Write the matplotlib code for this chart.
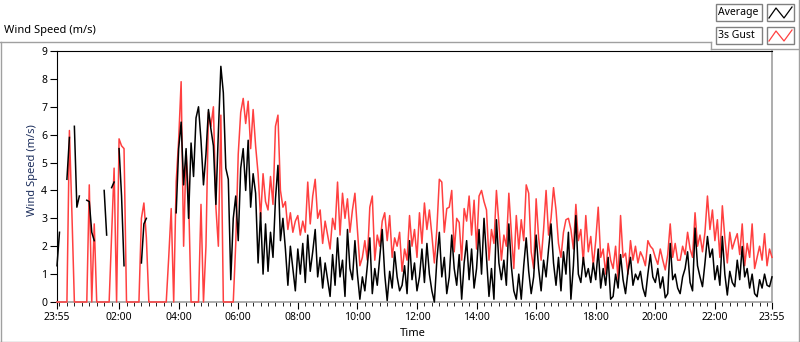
import numpy as np
import matplotlib.pyplot as plt
from matplotlib.lines import Line2D
from matplotlib.patches import Rectangle

plt.rcParams['font.family'] = ['Noto Sans', 'DejaVu Sans']

N = np.nan
step_min = 5  # one reading every 5 minutes, starting 23:55

# 10-minute average wind speed (m/s), gaps where no reading
avg_speed = [
    1.3, 2.5, N, N, 4.4, 5.9, N, 6.3, 3.4, 3.8,
    N, N, 3.65, 3.6, 2.5, 2.2, N, N, N, 4.0,
    2.4, N, 4.1, 4.3, N, 5.5, 3.8, 1.3, N, N,
    N, N, N, N, 1.4, 2.8, 3.0, N, N, N,
    N, N, N, N, N, N, N, N, 3.2, 5.5,
    6.45, 4.2, 5.5, 3.0, 5.7, 4.5, 6.6, 7.0, 5.8, 4.2,
    5.3, 6.9, 6.2, 5.6, 3.5, 6.1, 8.45, 7.5, 4.8, 4.4,
    0.8, 3.0, 3.8, 2.2, 4.8, 5.5, 4.0, 5.8, 3.4, 4.6,
    3.9, 1.4, 3.2, 1.0, 2.8, 1.1, 2.5, 1.6, 3.7, 4.9,
    2.2, 3.0, 1.9, 0.6, 2.0, 1.2, 0.4, 1.9, 1.0, 2.1,
    0.7, 2.4, 1.1, 1.8, 2.6, 0.9, 1.6, 0.5, 1.4, 0.8,
    0.2, 1.7, 0.6, 2.3, 0.9, 1.5, 0.2, 2.6, 1.2, 0.8,
    2.2, 1.0, 0.1, 0.9, 0.4, 1.3, 2.3, 0.3, 1.2, 0.6,
    1.6, 2.6, 1.0, 0.05, 1.1, 0.5, 1.8, 0.9, 0.4, 0.6,
    1.3, 0.3, 2.2, 0.8, 1.4, 0.4, 0.9, 1.9, 0.7, 2.1,
    1.0, 0.4, 0.0, 1.5, 2.5, 0.9, 1.6, 0.3, 0.9, 2.4,
    1.2, 0.6, 1.7, 0.1, 1.4, 2.2, 0.8, 1.9, 0.5, 1.2,
    2.6, 1.0, 3.0, 1.6, 0.2, 1.2, 0.1, 2.95, 1.4, 0.8,
    1.5, 0.6, 2.8, 1.3, 0.4, 0.1, 1.0, 0.1, 1.3, 2.3,
    1.1, 0.3, 0.9, 2.4, 1.2, 0.4, 1.5, 0.9, 1.9, 2.8,
    1.4, 0.6, 1.6, 0.4, 1.8, 1.0, 2.5, 0.1, 1.3, 3.1,
    1.0, 0.7, 1.6, 0.9, 1.2, 0.7, 1.4, 0.8, 1.9, 0.5,
    1.2, 0.6, 1.6, 0.1, 0.2, 1.0, 0.5, 1.7, 0.8, 0.3,
    1.1, 1.6, 0.6, 1.0, 0.8, 1.1, 0.5, 0.2, 1.0, 1.7,
    0.9, 0.7, 1.2, 0.5, 0.9, 0.15, 0.3, 2.1, 0.8, 1.0,
    0.5, 0.3, 0.9, 1.2, 1.8, 0.7, 0.4, 2.65, 1.3, 0.9,
    0.55, 1.4, 2.35, 1.6, 1.9, 0.8, 1.3, 0.6, 2.35, 1.0,
    0.25, 1.1, 0.7, 0.55, 1.5, 0.8, 1.99, 0.9, 1.2, 0.5,
    1.0, 0.3, 0.19, 0.8, 0.5, 1.0, 0.6, 0.55, 0.9,
]

# 3 second gust (m/s), zero when calm
gust_speed = [
    0, 0, 0, 0, 0, 6.15, 3.2, 0, 0, 0,
    0, 0, 0, 4.2, 0, 2.8, 0, 0, 0, 0,
    0, 0, 2.4, 4.8, 0, 5.85, 5.6, 5.5, 0, 0,
    0, 0, 0, 0, 3.0, 3.55, 2.3, 0, 0, 0,
    0, 0, 0, 0, 0, 1.6, 3.35, 0, 4.3, 5.8,
    7.9, 2.0, 5.4, 3.8, 0, 0, 0, 0, 3.5, 0,
    2.0, 6.8, 6.3, 7.0, 3.4, 2.0, 6.7, 0, 0, 0,
    0, 0, 2.1, 5.3, 6.8, 7.3, 6.4, 7.2, 5.5, 6.9,
    5.6, 4.6, 3.0, 4.6, 3.6, 3.3, 4.5, 3.5, 6.3, 6.7,
    4.0, 3.4, 3.6, 2.6, 3.2, 2.5, 2.9, 3.1, 2.4, 2.9,
    2.5, 4.3, 2.8, 3.8, 4.4, 3.0, 3.3, 2.1, 2.9, 2.4,
    1.9, 3.0, 2.6, 4.3, 2.4, 3.9, 3.0, 3.7, 2.5, 3.3,
    3.9, 2.6, 1.3, 1.6, 2.2, 1.5, 3.4, 3.8, 1.5, 2.4,
    2.0, 2.9, 3.2, 2.2, 3.1, 1.6, 2.3, 2.0, 2.5, 1.1,
    1.9, 1.5, 3.1, 2.0, 2.6, 1.6, 3.2, 2.1, 3.55, 2.6,
    3.3, 2.4, 1.4, 2.6, 4.4, 4.3, 2.5, 3.35, 3.4, 4.0,
    1.8, 3.0, 2.85, 1.5, 3.35, 2.9, 3.8, 2.4, 3.65, 1.9,
    3.8, 4.0, 3.6, 3.3, 1.5, 2.6, 2.1, 4.0, 2.8, 1.5,
    2.4, 2.0, 3.9, 2.5, 1.2, 3.1, 1.9, 2.95, 2.2, 4.2,
    3.9, 1.8, 1.2, 3.7, 2.3, 1.5, 2.6, 4.0, 2.4, 3.0,
    4.1, 3.3, 2.1, 1.6, 2.5, 2.95, 3.0, 2.6, 1.9, 3.5,
    2.2, 2.6, 1.4, 3.1, 1.8, 2.35, 1.3, 2.2, 3.4, 1.6,
    1.9, 1.0, 2.1, 1.5, 1.2, 2.0, 0.8, 3.1, 1.6, 1.75,
    1.0, 2.2, 1.5, 2.0, 1.4, 1.8, 1.6, 1.3, 2.2, 2.0,
    1.9, 1.6, 1.35, 1.9, 1.5, 1.15, 1.7, 2.8, 1.6, 2.1,
    1.5, 1.5, 2.0, 1.7, 2.5, 1.9, 1.6, 3.2, 2.0, 2.4,
    1.8, 2.5, 3.8, 2.6, 3.3, 2.2, 2.95, 1.6, 3.45, 2.3,
    1.4, 2.5, 1.9, 2.2, 2.45, 1.7, 2.8, 1.3, 2.1, 1.6,
    2.8, 1.2, 1.6, 2.0, 1.5, 2.45, 1.3, 1.9, 1.6,
]

tick_minutes = [0, 125, 245, 365, 485, 605, 725, 845, 965, 1085, 1205, 1325, 1440]
tick_labels = ['23:55', '02:00', '04:00', '06:00', '08:00', '10:00', '12:00',
               '14:00', '16:00', '18:00', '20:00', '22:00', '23:55']

W, H = 800, 342
def fx(x):
    return x / W
def fy(y):
    return 1 - y / H

fig = plt.figure(figsize=(8, 3.42), dpi=100)
ax = fig.add_axes([fx(57), fy(302), 715 / W, 251 / H])

t = np.arange(len(avg_speed)) * step_min
ax.plot(t, gust_speed, color='#ff4040', lw=1.1, clip_on=False, zorder=3)
ax.plot(t, avg_speed, color='black', lw=1.1, clip_on=False, zorder=4)

ax.set_xlim(0, 1440)
ax.set_ylim(0, 9)
ax.set_yticks(range(10))
ax.set_xticks(tick_minutes)
ax.set_xticklabels(tick_labels)
ax.set_xticks(np.arange(5, 1440, 15), minor=True)
ax.tick_params(axis='both', labelsize=7.5, colors='black', direction='out')
ax.tick_params(axis='x', which='major', length=5, pad=2)
ax.tick_params(axis='x', which='minor', length=3)
ax.tick_params(axis='y', length=5, pad=2)

for side in ['top', 'left']:
    ax.spines[side].set_color('black')
for side in ['bottom', 'right']:
    ax.spines[side].set_color('#a0a0a0')
    ax.spines[side].set_linewidth(1.2)

fig.text(fx(4), fy(31), 'Wind Speed (m/s)', fontsize=8, va='center', ha='left')
fig.text(fx(32), fy(170), 'Wind Speed (m/s)', fontsize=8, rotation=90,
         va='center', ha='center', color='#1c2e5c')
fig.text(fx(413), fy(333), 'Time', fontsize=8, va='center', ha='center')

# outer panel frame
frame = '#a0a0a0'
fig.add_artist(Line2D([fx(0.5), fx(0.5)], [fy(42), fy(342)], color=frame, lw=1))
fig.add_artist(Line2D([fx(0), fx(711)], [fy(42), fy(42)], color=frame, lw=1))
fig.add_artist(Line2D([fx(711), fx(711)], [fy(42), fy(49)], color=frame, lw=1))
fig.add_artist(Line2D([fx(711), fx(799)], [fy(49), fy(49)], color=frame, lw=1))
fig.add_artist(Line2D([fx(798.5), fx(798.5)], [fy(0), fy(342)], color=frame, lw=1))
fig.add_artist(Line2D([fx(0), fx(799)], [fy(341.5), fy(341.5)], color=frame, lw=1))

# legend
for y0, name, col in [(4, 'Average', 'black'), (27, '3s Gust', '#ff4040')]:
    fig.add_artist(Rectangle((fx(716), fy(y0 + 17)), 46 / W, 17 / H,
                             transform=fig.transFigure, facecolor='white',
                             edgecolor='#808080', lw=1))
    fig.add_artist(Rectangle((fx(767), fy(y0 + 17)), 27 / W, 17 / H,
                             transform=fig.transFigure, facecolor='white',
                             edgecolor='#808080', lw=1))
    fig.text(fx(718), fy(y0 + 8.5), name, fontsize=7.5, va='center', ha='left')
    fig.add_artist(Line2D([fx(769), fx(776), fx(784), fx(792)],
                          [fy(y0 + 14), fy(y0 + 4), fy(y0 + 14), fy(y0 + 3)],
                          color=col, lw=0.9))

fig.savefig('out.png', dpi=100)
